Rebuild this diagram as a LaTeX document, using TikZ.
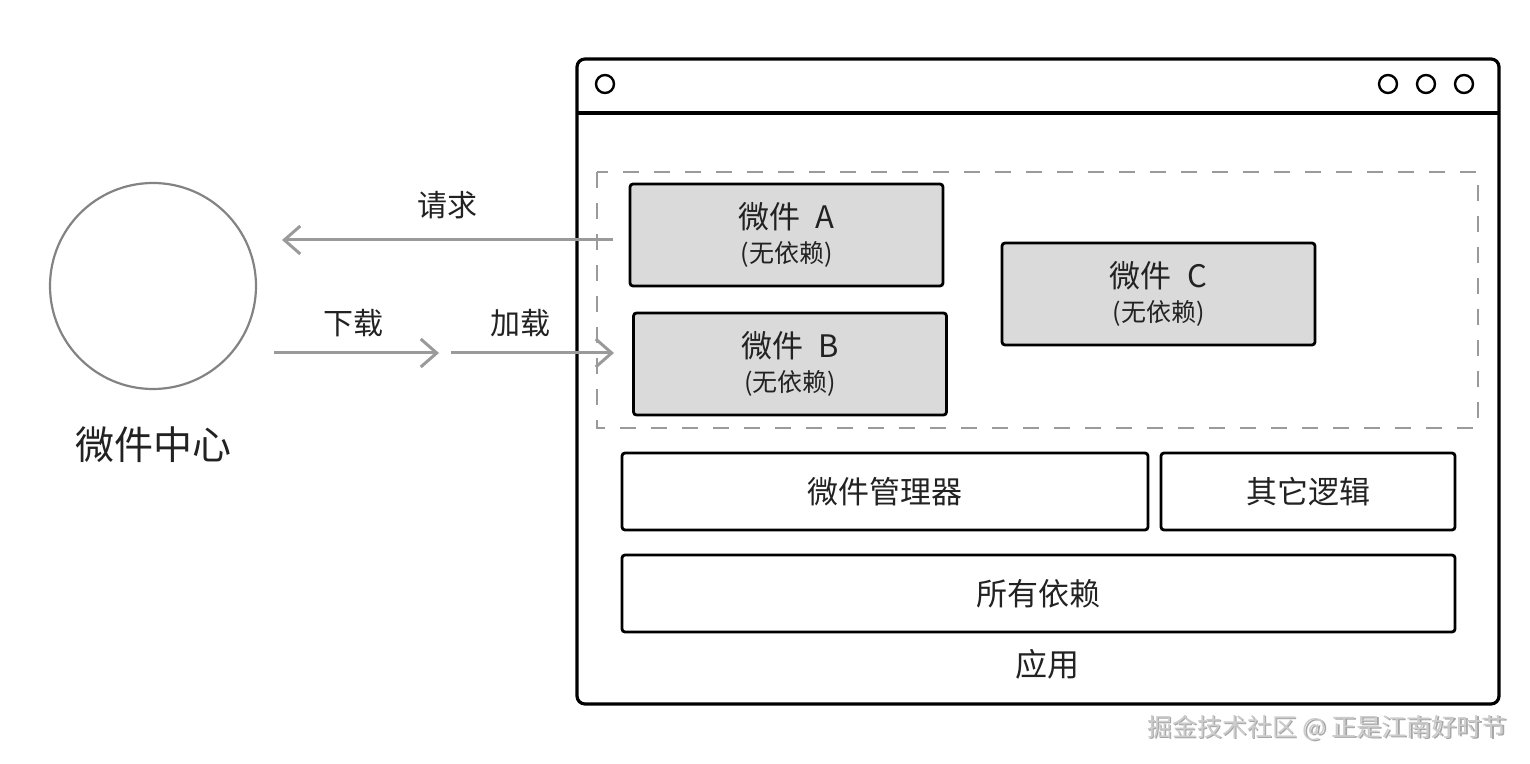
\documentclass[tikz,border=0pt]{standalone}
\usepackage{fontspec}
\setmainfont{Noto Sans CJK SC}
\usetikzlibrary{arrows.meta,shapes.geometric}
\definecolor{txt}{HTML}{222222}
\definecolor{arr}{HTML}{9A9A9A}
\definecolor{boxfill}{HTML}{DADADA}
\tikzset{
  wbox/.style={draw=black,line width=1.4pt,rounded corners=1.5pt,minimum height=38.5pt,inner sep=0pt,font=\fontsize{15.5pt}{18pt}\selectfont,text=txt},
  gbox/.style={draw=black,fill=boxfill,line width=1.4pt,rounded corners=1.5pt,minimum width=156.5pt,minimum height=51pt,inner sep=0pt,text=txt,align=center},
  arrline/.style={draw=arr,line width=1.5pt,-{Straight Barb[length=8pt,width=14pt,line width=1.5pt]}},
  lbl/.style={text=txt,font=\fontsize{15pt}{18pt}\selectfont},
  dot/.style={circle,draw=black,line width=1.2pt,minimum size=9pt,inner sep=0pt}
}
\newcommand{\wtitle}[1]{{\fontsize{15.5pt}{16pt}\selectfont 微件\enspace #1}\\[5pt]{\fontsize{12.5pt}{14pt}\selectfont (无依赖)}}
\begin{document}
\begin{tikzpicture}[x=0.5pt,y=-0.5pt]
\useasboundingbox (0,0) rectangle (1530,764);
% hub
\node[circle,draw=arr!85!black,line width=1.1pt,minimum size=103pt,inner sep=0pt] (hub) at (153,286) {};
\node[text=txt,font=\fontsize{19.5pt}{22pt}\selectfont] (hubl) at (153,445) {微件中心};
% window
\draw[black,line width=1.6pt,rounded corners=4pt] (577,59) rectangle (1499,704);
\coordinate (tl) at (577,113);
\coordinate (tr) at (1499,113);
\draw[black,line width=1.6pt] (tl) -- (tr);
\node[dot] (d0) at (605,84) {};
\node[dot] (d1) at (1388,84) {};
\node[dot] (d2) at (1426,84) {};
\node[dot] (d3) at (1464,84) {};
% dashed region
\draw[arr,line width=0.8pt,dash pattern=on 8pt off 7.5pt] (597,172) rectangle (1478,428);
% widgets
\node[gbox] (wa) at (786.5,235) {\wtitle{A}};
\node[gbox] (wb) at (790,364) {\wtitle{B}};
\node[gbox] (wc) at (1158.5,294) {\wtitle{C}};
% lower boxes
\node[wbox,minimum width=263pt] (mgr) at (885,491.5) {微件管理器};
\node[wbox,minimum width=147pt] (oth) at (1308,491.5) {其它逻辑};
\node[wbox,minimum width=416.5pt] (dep) at (1038.5,593.5) {所有依赖};
\node[text=txt,font=\fontsize{16pt}{18pt}\selectfont] (app) at (1047,664) {应用};
% arrows
\coordinate (rqs) at (613,240);
\coordinate (rqe) at (282,240);
\draw[arrline] (rqs) -- (rqe);
\node[lbl] (rql) at (447,205) {请求};
\coordinate (dls) at (274,353);
\coordinate (dle) at (439,353);
\draw[arrline] (dls) -- (dle);
\node[lbl] (dll) at (353,323) {下载};
\coordinate (lds) at (451,353);
\coordinate (lde) at (614,353);
\draw[arrline] (lds) -- (lde);
\node[lbl] (ldl) at (520,323) {加载};
% watermark
\node[text=gray!70,font=\fontsize{12.5pt}{15pt}\selectfont] (wm2) at (1328.5,729.5) {掘金技术社区 @ 正是江南好时节};
\node[text=white!60!gray,font=\fontsize{12.5pt}{15pt}\selectfont] (wm) at (1327,728) {掘金技术社区 @ 正是江南好时节};
\end{tikzpicture}
\end{document}
